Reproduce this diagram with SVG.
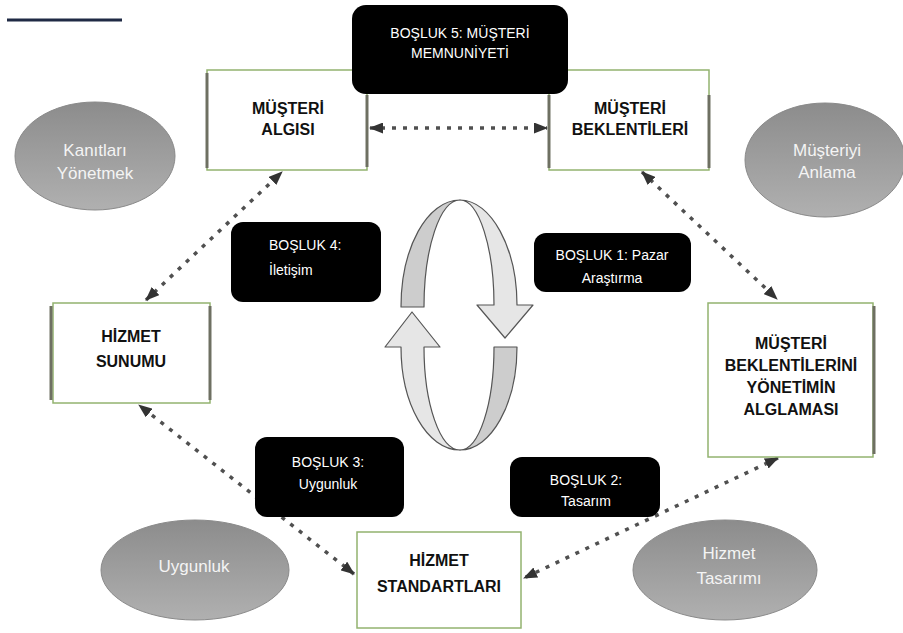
<svg xmlns="http://www.w3.org/2000/svg" width="903" height="633" viewBox="0 0 903 633">
<style>
.box{fill:#ffffff;stroke:#93b36f;stroke-width:1.5}
.edge{stroke:#6e7062;stroke-width:3;fill:none}
.gap{fill:#000000}
.ell{fill:url(#eg);stroke:#8a8a8a;stroke-width:1}
.bt{font-family:"Liberation Sans",Arial,sans-serif;font-weight:bold;font-size:16px;fill:#111111;text-anchor:middle}
.gt{font-family:"Liberation Sans",Arial,sans-serif;font-size:14px;fill:#ffffff;text-anchor:middle}
.et{font-family:"Liberation Sans",Arial,sans-serif;font-size:17px;fill:#f4f4f4;text-anchor:middle}
.con{stroke:#505050;stroke-width:3.5;stroke-dasharray:4 7;fill:none;marker-start:url(#ah);marker-end:url(#ah)}
.dk{fill:#cdcdcd;stroke:#555555;stroke-width:1.2;stroke-linejoin:round}
.lt{fill:#e6e6e6;stroke:#555555;stroke-width:1.2;stroke-linejoin:round}
</style>
<defs>
<linearGradient id="eg" x1="0" y1="0" x2="0" y2="1">
<stop offset="0" stop-color="#8c8c8c"/>
<stop offset="1" stop-color="#b0b0b0"/>
</linearGradient>
<marker id="ah" viewBox="0 0 14 11" refX="13" refY="5.5" markerWidth="14" markerHeight="11" markerUnits="userSpaceOnUse" orient="auto-start-reverse">
<path d="M0,0 L14,5.5 L0,11 z" fill="#333333"/>
</marker>
</defs>
<rect width="903" height="633" fill="#ffffff"/>
<line x1="7" y1="20" x2="122" y2="20" stroke="#1f2a44" stroke-width="3"/>

<g id="ellipse-kanitlari">
<ellipse class="ell" cx="95" cy="156" rx="80" ry="54"/>
<text class="et" x="95" y="156">Kanıtları</text>
<text class="et" x="95" y="179">Yönetmek</text>
</g>
<g id="ellipse-musteriyi">
<ellipse class="ell" cx="825" cy="160" rx="80" ry="57"/>
<text class="et" x="827" y="156">Müşteriyi</text>
<text class="et" x="827" y="178">Anlama</text>
</g>
<g id="ellipse-uygunluk">
<ellipse class="ell" cx="195" cy="570" rx="94" ry="50"/>
<text class="et" x="194" y="572">Uygunluk</text>
</g>
<g id="ellipse-hizmet-tasarimi">
<ellipse class="ell" cx="725" cy="570" rx="92" ry="50"/>
<text class="et" x="729" y="559">Hizmet</text>
<text class="et" x="729" y="584">Tasarımı</text>
</g>

<g id="connectors">
<line class="con" x1="370" y1="128" x2="547" y2="128"/>
<line class="con" x1="642" y1="172" x2="777" y2="299"/>
<line class="con" x1="778" y1="458" x2="524" y2="578"/>
<line class="con" x1="354" y1="574" x2="139" y2="405"/>
<line class="con" x1="146" y1="300" x2="282" y2="172"/>
</g>

<g id="cycle">
<path class="dk" d="M401,307 C401,248 427,200 460,200 C440,200 424,248 424,307 Z"/>
<path class="lt" d="M460,200 C491,200 517,248 517,305 L533,305 L505,338 L477,305 L494,305 C494,248 479,200 460,200 Z"/>
<path class="dk" d="M494,347 L517,347 C517,404 491,450 460,450 C479,450 494,404 494,347 Z"/>
<path class="lt" d="M460,450 C427,450 401,404 401,347 L385,347 L412,312 L440,347 L424,347 C424,404 440,450 460,450 Z"/>
</g>

<g id="node-musteri-algisi">
<rect class="box" x="207" y="70" width="160" height="100"/>
<line class="edge" x1="207" y1="73" x2="207" y2="168"/>
<line class="edge" x1="367" y1="95" x2="367" y2="167"/>
<text class="bt" x="288" y="114">MÜŞTERİ</text>
<text class="bt" x="288" y="135">ALGISI</text>
</g>
<g id="node-musteri-beklentileri">
<rect class="box" x="549" y="70" width="160" height="100"/>
<line class="edge" x1="549" y1="95" x2="549" y2="168"/>
<line class="edge" x1="709" y1="95" x2="709" y2="168"/>
<text class="bt" x="630" y="114">MÜŞTERİ</text>
<text class="bt" x="630" y="135">BEKLENTİLERİ</text>
</g>
<g id="node-hizmet-sunumu">
<rect class="box" x="53" y="303" width="157" height="100"/>
<line class="edge" x1="51" y1="306" x2="51" y2="400"/>
<line class="edge" x1="210" y1="306" x2="210" y2="400"/>
<text class="bt" x="131" y="342">HİZMET</text>
<text class="bt" x="131" y="367">SUNUMU</text>
</g>
<g id="node-alglamasi">
<rect class="box" x="708" y="303" width="165" height="154"/>
<line class="edge" x1="874" y1="306" x2="874" y2="454"/>
<text class="bt" x="791" y="349">MÜŞTERİ</text>
<text class="bt" x="791" y="371">BEKLENTİLERİNİ</text>
<text class="bt" x="791" y="393">YÖNETİMİN</text>
<text class="bt" x="791" y="415">ALGLAMASI</text>
</g>
<g id="node-hizmet-standartlari">
<rect class="box" x="357" y="532" width="164" height="96"/>
<text class="bt" x="439" y="566">HİZMET</text>
<text class="bt" x="439" y="592">STANDARTLARI</text>
</g>

<g id="gap-5">
<rect class="gap" x="352" y="5" width="216" height="89" rx="14"/>
<text class="gt" x="460" y="38">BOŞLUK 5: MÜŞTERİ</text>
<text class="gt" x="460" y="58">MEMNUNİYETİ</text>
</g>
<g id="gap-4">
<rect class="gap" x="231" y="222" width="150" height="80" rx="12"/>
<text class="gt" x="269" y="250" style="text-anchor:start">BOŞLUK 4:</text>
<text class="gt" x="269" y="275" style="text-anchor:start">İletişim</text>
</g>
<g id="gap-1">
<rect class="gap" x="534" y="233" width="157" height="59" rx="12"/>
<text class="gt" x="612" y="260">BOŞLUK 1: Pazar</text>
<text class="gt" x="612" y="283">Araştırma</text>
</g>
<g id="gap-3">
<rect class="gap" x="255" y="437" width="149" height="80" rx="12"/>
<text class="gt" x="328" y="467">BOŞLUK 3:</text>
<text class="gt" x="328" y="489">Uygunluk</text>
</g>
<g id="gap-2">
<rect class="gap" x="510" y="457" width="150" height="60" rx="12"/>
<text class="gt" x="586" y="485">BOŞLUK 2:</text>
<text class="gt" x="586" y="506">Tasarım</text>
</g>
</svg>
